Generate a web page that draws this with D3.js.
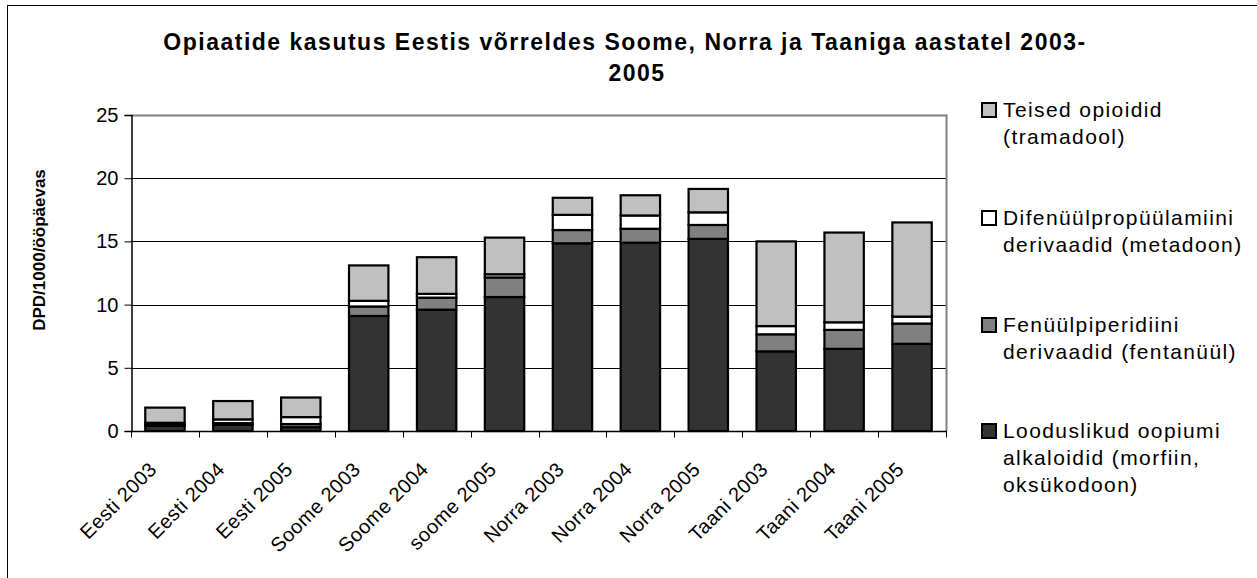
<!DOCTYPE html>
<html>
<head>
<meta charset="utf-8">
<script src="https://cdn.jsdelivr.net/npm/d3@7"></script>
<style>
  body { margin: 0; background: #fff; }
  text { font-family: Arial, "Liberation Sans", sans-serif; fill: #000; }
</style>
</head>
<body>
<script>
// categories on the x axis
var categories = ["Eesti 2003", "Eesti 2004", "Eesti 2005", "Soome 2003", "Soome 2004", "soome 2005",
                  "Norra 2003", "Norra 2004", "Norra 2005", "Taani 2003", "Taani 2004", "Taani 2005"];
// series values, bottom of the stack first
var looduslikud = [0.4, 0.5, 0.3, 9.1, 9.6, 10.6, 14.85, 14.9, 15.2, 6.3, 6.5, 6.9];
var fenyylpiperidiini = [0.1, 0.12, 0.25, 0.75, 0.95, 1.55, 1.05, 1.1, 1.1, 1.35, 1.5, 1.6];
var difenyylpropyylamiini = [0.15, 0.3, 0.55, 0.45, 0.3, 0.25, 1.2, 1.05, 1.0, 0.65, 0.6, 0.55];
var teised = [1.2, 1.45, 1.55, 2.8, 2.9, 2.9, 1.35, 1.6, 1.85, 6.7, 7.1, 7.45];
var yTicks = [0, 5, 10, 15, 20, 25];

var seriesNames = ["Looduslikud oopiumi alkaloidid (morfiin, oksükodoon)",
                   "Fenüülpiperidiini derivaadid (fentanüül)",
                   "Difenüülpropüülamiini derivaadid (metadoon)",
                   "Teised opioidid (tramadool)"];
var seriesValues = [looduslikud, fenyylpiperidiini, difenyylpropyylamiini, teised];
var colors = ["#333333", "#808080", "#ffffff", "#c0c0c0"];
// legend lines, top item first like in excel
var legendLines = [["Teised opioidid", "(tramadool)"],
                   ["Difenüülpropüülamiini", "derivaadid (metadoon)"],
                   ["Fenüülpiperidiini", "derivaadid (fentanüül)"],
                   ["Looduslikud oopiumi", "alkaloidid (morfiin,", "oksükodoon)"]];
var legendColors = ["#c0c0c0", "#ffffff", "#808080", "#333333"];

var W = 1257, H = 578;
// plot box (window.top is taken, so pTop etc)
var pLeft = 131, pRight = 946, pTop = 115, pBottom = 431;

var svg = d3.select("body").append("svg")
    .attr("width", W)
    .attr("height", H);

// outer chart frame, only left and top show in the picture
svg.append("rect")
    .attr("x", 7.5).attr("y", 5.5)
    .attr("width", 1400).attr("height", 700)
    .attr("fill", "none").attr("stroke", "#000").attr("stroke-width", 1);

// build the table for d3.stack
var table = categories.map(function(c, i) {
    var row = { cat: c };
    seriesNames.forEach(function(s, k) { row[s] = seriesValues[k][i]; });
    return row;
});
var stacked = d3.stack().keys(seriesNames)(table);

var x = d3.scaleBand().domain(categories).range([pLeft, pRight]).paddingInner(0.42).paddingOuter(0.21);
var y = d3.scaleLinear().domain([0, 25]).range([pBottom, pTop]);

// gridlines
svg.append("g").selectAll("line")
    .data(yTicks.filter(function(t) { return t > 0 && t < 25; }))
    .enter().append("line")
    .attr("x1", pLeft).attr("x2", pRight)
    .attr("y1", function(d) { return Math.round(y(d)) + 0.5; })
    .attr("y2", function(d) { return Math.round(y(d)) + 0.5; })
    .attr("stroke", "#000").attr("stroke-width", 1);

// gray plot border on top and right
svg.append("path")
    .attr("d", "M" + pLeft + "," + (pTop + 0.5) + "H" + (pRight + 0.5) + "V" + pBottom)
    .attr("fill", "none").attr("stroke", "#808080").attr("stroke-width", 2);

// bars
svg.append("g").selectAll("g")
    .data(stacked).enter().append("g")
    .attr("fill", function(d, i) { return colors[i]; })
    .selectAll("rect")
    .data(function(d) { return d; })
    .enter().append("rect")
    .attr("x", function(d) { return x(d.data.cat); })
    .attr("y", function(d) { return y(d[1]); })
    .attr("width", x.bandwidth())
    .attr("height", function(d) { return y(d[0]) - y(d[1]); })
    .attr("stroke", "#000").attr("stroke-width", 2.2);

// y axis
var yAxis = d3.axisLeft(y).tickValues(yTicks).tickSize(7).tickPadding(6).tickFormat(d3.format("d"));
var gy = svg.append("g").attr("transform", "translate(" + (pLeft + 0.5) + ",0)").call(yAxis);
gy.select(".domain").attr("stroke", "#000").attr("stroke-width", 1.5);
gy.selectAll("text").style("font-size", "20px").attr("fill", "#000");

// x axis, ticks between categories
var gx = svg.append("g").attr("transform", "translate(0," + (pBottom + 0.5) + ")");
gx.append("line").attr("x1", pLeft).attr("x2", pRight + 1)
    .attr("stroke", "#000").attr("stroke-width", 1.5);
var edges = categories.map(function(c) { return x(c) - x.step() * x.paddingInner() / 2; });
edges.push(pRight);
gx.selectAll(".tk").data(edges).enter().append("line")
    .attr("x1", function(d) { return Math.round(d) + 0.5; })
    .attr("x2", function(d) { return Math.round(d) + 0.5; })
    .attr("y1", 0).attr("y2", 6)
    .attr("stroke", "#000");
gx.selectAll(".lbl").data(categories).enter().append("text")
    .attr("transform", function(d) {
        return "translate(" + (x(d) + x.bandwidth() / 2 - 7) + ",39) rotate(-45)";
    })
    .attr("text-anchor", "end")
    .style("font-size", "20px")
    .style("letter-spacing", "0.4px")
    .text(function(d) { return d; });

// y axis title
svg.append("text")
    .attr("transform", "translate(45,250) rotate(-90)")
    .attr("text-anchor", "middle")
    .style("font-size", "17px").style("font-weight", "bold")
    .text("DPD/1000/ööpäevas");

// chart title
var title = svg.append("text").attr("text-anchor", "middle")
    .style("font-size", "23px").style("font-weight", "bold")
    .style("letter-spacing", "1.5px");
title.append("tspan").attr("x", 625).attr("y", 50)
    .text("Opiaatide kasutus Eestis võrreldes Soome, Norra ja Taaniga aastatel 2003-");
title.append("tspan").attr("x", 637).attr("y", 81).text("2005");

// legend
var legendTop = [117, 225, 332, 438];
var lg = svg.append("g");
legendLines.forEach(function(lines, i) {
    lg.append("rect")
        .attr("x", 982).attr("y", legendTop[i] - 14)
        .attr("width", 14).attr("height", 14)
        .attr("fill", legendColors[i]).attr("stroke", "#000").attr("stroke-width", 2);
    var t = lg.append("text").style("font-size", "21px").style("letter-spacing", "1.4px");
    lines.forEach(function(l, j) {
        t.append("tspan").attr("x", 1003).attr("y", legendTop[i] + j * 27).text(l);
    });
});
</script>
</body>
</html>
